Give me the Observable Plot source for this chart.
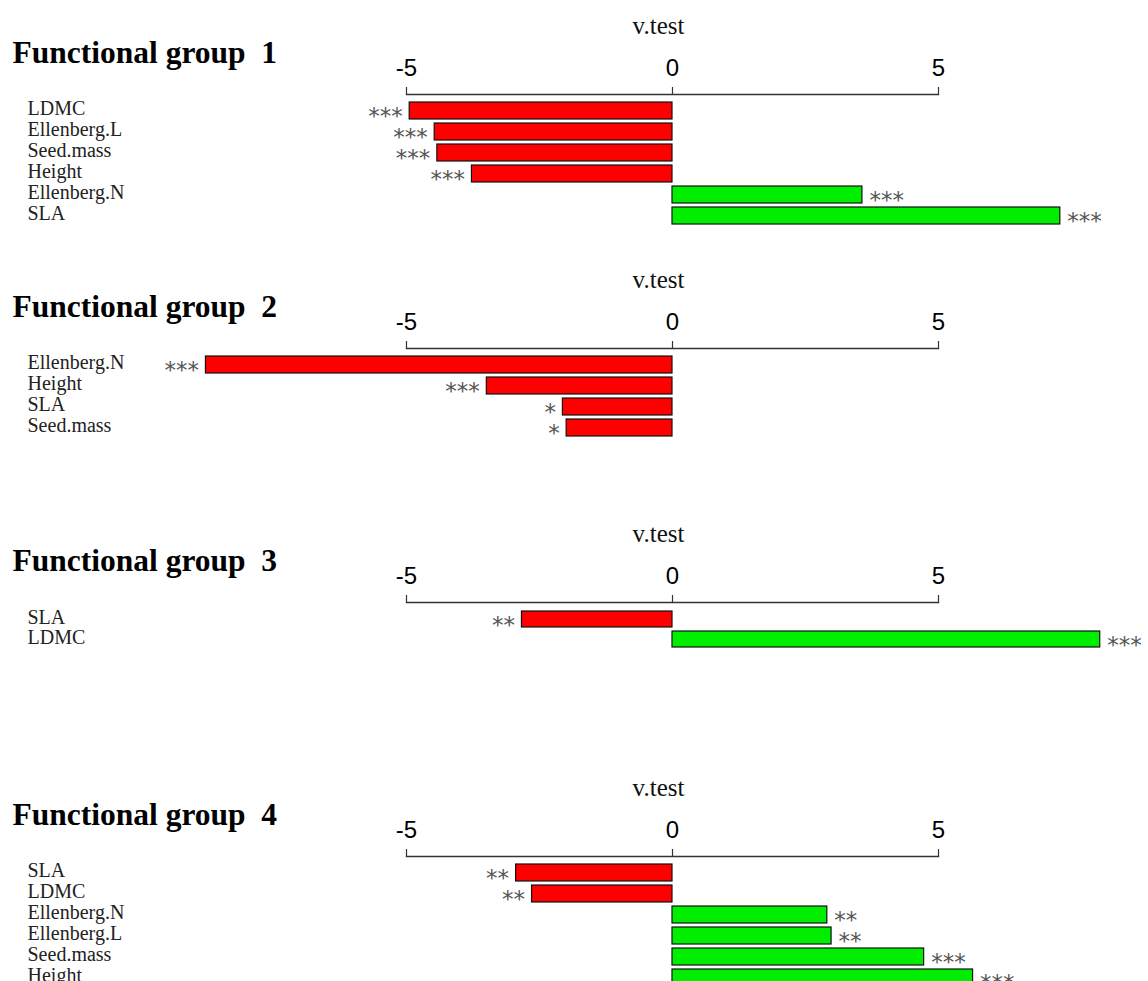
<!DOCTYPE html>
<html>
<head>
<meta charset="utf-8">
<script src="https://cdn.jsdelivr.net/npm/d3@7"></script>
<script src="https://cdn.jsdelivr.net/npm/@observablehq/plot@0.6"></script>
<style>
  html, body { margin: 0; padding: 0; background: #fff; overflow: hidden; }
  #chart { width: 1148px; }
  #chart svg { display: block; overflow: hidden; }
  g[aria-label="stars"] text { letter-spacing: 3.5px; }
</style>
</head>
<body>
<div id="chart"></div>
<script>
// ---- data ----
const groupTitles = ["Functional group\u00a0 1", "Functional group\u00a0 2", "Functional group\u00a0 3", "Functional group\u00a0 4"];

const traits1 = ["LDMC", "Ellenberg.L", "Seed.mass", "Height", "Ellenberg.N", "SLA"];
const vtest1  = [-4.94, -4.47, -4.42, -3.77, 3.57, 7.29];
const signif1 = ["***", "***", "***", "***", "***", "***"];

const traits2 = ["Ellenberg.N", "Height", "SLA", "Seed.mass"];
const vtest2  = [-8.77, -3.49, -2.06, -1.99];
const signif2 = ["***", "***", "*", "*"];

const traits3 = ["SLA", "LDMC"];
const vtest3  = [-2.83, 8.04];
const signif3 = ["**", "***"];

const traits4 = ["SLA", "LDMC", "Ellenberg.N", "Ellenberg.L", "Seed.mass", "Height"];
const vtest4  = [-2.94, -2.64, 2.91, 2.99, 4.73, 5.65];
const signif4 = ["**", "**", "**", "**", "***", "***"];

const axisTicks = [-5, 0, 5];
const axisTitle = "v.test";

const panels = [
  [traits1, vtest1, signif1],
  [traits2, vtest2, signif2],
  [traits3, vtest3, signif3],
  [traits4, vtest4, signif4]
];

const serif = "'Liberation Serif', 'Times New Roman', Times, serif";
const sans = "'Liberation Sans', Arial, Helvetica, sans-serif";
const starFont = "'DejaVu Sans', sans-serif";

function panel(title, traits, vals, sig) {
  const data = traits.map((t, i) => ({trait: t, v: vals[i], s: sig[i], sign: vals[i] < 0 ? "neg" : "pos"}));
  const H = 254, step = 21, n = traits.length;
  const marginTop = 94;
  const pi = 0.19, po = 0.38;
  const rangeLen = step * (n - pi + 2 * po);
  return Plot.plot({
    width: 1148,
    height: H,
    marginTop,
    marginBottom: H - marginTop - rangeLen,
    marginLeft: 406,
    marginRight: 210,
    x: {domain: [-5, 5]},
    y: {domain: traits, paddingInner: pi, paddingOuter: po, axis: null},
    color: {domain: ["neg", "pos"], range: ["#ff0000", "#00ee00"]},
    marks: [
      Plot.axisX({anchor: "top", ticks: axisTicks, tickFormat: d => `${d}`, tickSize: 8, tickPadding: 11, fontSize: 24, fontFamily: sans, label: null, stroke: "#333", strokeWidth: 1.2, fill: "#000"}),
      Plot.frame({anchor: "top", stroke: "#333", strokeWidth: 1.3}),
      Plot.text([axisTitle], {frameAnchor: "top", lineAnchor: "bottom", text: d => d, dx: -14, dy: -61, fontSize: 25, fontFamily: serif, fill: "#111"}),
      Plot.text([title], {frameAnchor: "top-left", lineAnchor: "bottom", text: d => d, textAnchor: "start", dx: -394, dy: -32, fontSize: 31.5, fontWeight: "bold", fontFamily: serif, fill: "#000"}),
      Plot.barX(data, {x: "v", y: "trait", fill: "sign", stroke: "#111", strokeWidth: 1.2}),
      Plot.text(data, {y: "trait", text: "trait", frameAnchor: "left", lineAnchor: "middle", textAnchor: "start", dx: -379, dy: -2, fontSize: 20, fontFamily: serif, fill: "#222"}),
      Plot.text(data.filter(d => d.v < 0), {x: "v", y: "trait", text: "s", textAnchor: "end", dx: -7, dy: 6, fontSize: 23, fontFamily: starFont, fill: "#555", ariaLabel: "stars"}),
      Plot.text(data.filter(d => d.v >= 0), {x: "v", y: "trait", text: "s", textAnchor: "start", dx: 7, dy: 6, fontSize: 23, fontFamily: starFont, fill: "#555", ariaLabel: "stars"})
    ]
  });
}

const chart = document.getElementById("chart");
panels.forEach(([t, v, s], i) => chart.appendChild(panel(groupTitles[i], t, v, s)));
</script>
</body>
</html>
